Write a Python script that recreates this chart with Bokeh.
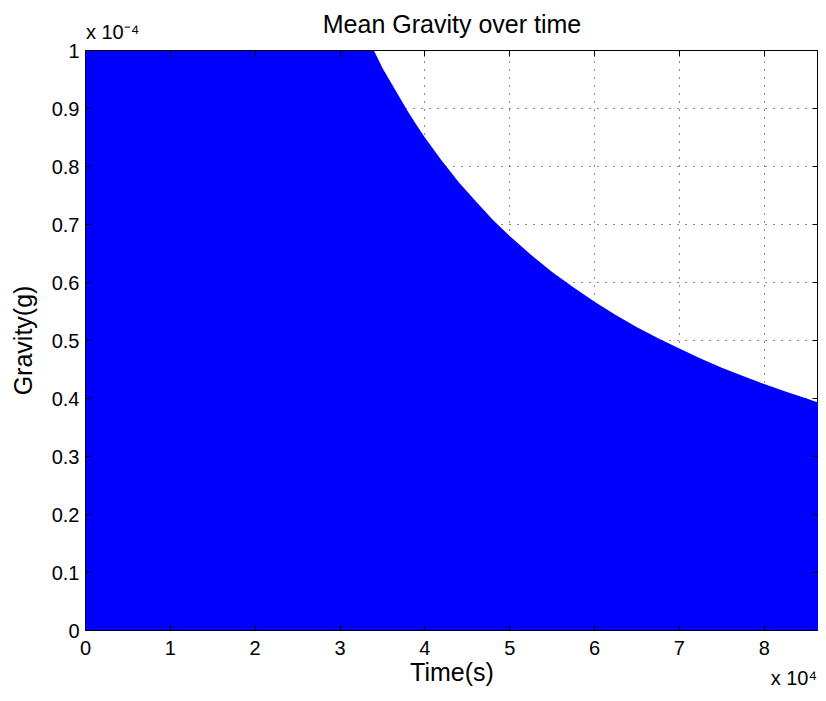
from bokeh.plotting import figure
from bokeh.models import Range1d, LinearAxis, FixedTicker
from bokeh.embed import file_html
from bokeh.resources import INLINE

# Data (time in seconds, gravity in g)
time_s = [0, 10000, 20000, 25000, 30000, 34000, 35000, 36000, 37000, 38000,
          39000, 40000, 42000, 44000, 46000, 48000, 50000, 52500, 55000,
          57500, 60000, 62500, 65000, 67500, 70000, 72500, 75000, 77500,
          80000, 82500, 85000, 86400]
gravity_g = [9.0e-4, 3.4e-4, 1.7e-4, 1.36e-4, 1.13e-4, 1.0e-4, 0.97e-4,
             0.945e-4, 0.92e-4, 0.895e-4, 0.872e-4, 0.85e-4, 0.81e-4,
             0.773e-4, 0.74e-4, 0.708e-4, 0.68e-4, 0.648e-4, 0.618e-4,
             0.592e-4, 0.567e-4, 0.544e-4, 0.523e-4, 0.504e-4, 0.486e-4,
             0.469e-4, 0.453e-4, 0.439e-4, 0.425e-4, 0.412e-4, 0.40e-4,
             0.393e-4]

x_ticks = [0, 10000, 20000, 30000, 40000, 50000, 60000, 70000, 80000]
x_tick_labels = ["0", "1", "2", "3", "4", "5", "6", "7", "8"]
y_ticks = [0, 0.1e-4, 0.2e-4, 0.3e-4, 0.4e-4, 0.5e-4, 0.6e-4, 0.7e-4, 0.8e-4, 0.9e-4, 1.0e-4]
y_tick_labels = ["0", "0.1", "0.2", "0.3", "0.4", "0.5", "0.6", "0.7", "0.8", "0.9", "1"]

title_text = "Mean Gravity over time"
x_label = "Time(s)"
y_label = "Gravity(g)"
x_multiplier = "x 10\u2074"
y_multiplier = "x 10\u207b\u2074"
x_multiplier_at = 83500
y_multiplier_at = 3200

FONT = "Liberation Sans"
TICK_SIZE = "20px"
LABEL_SIZE = "25px"
MULT_SIZE = "20px"

p = figure(width=818, height=693, output_backend="svg", toolbar_location=None,
           x_range=Range1d(0, 86400), y_range=Range1d(0, 1e-4),
           min_border_left=85, min_border_right=0, min_border_top=50,
           min_border_bottom=63, background_fill_color="white",
           border_fill_color="white", title_location=None)

p.varea(x=time_s, y1=0, y2=gravity_g, fill_color="#0000FF", fill_alpha=1.0)

p.outline_line_color = "black"
p.outline_line_width = 1


def style_axis(ax, show_labels=True, show_ticks=True):
    ax.major_tick_in = 6 if show_ticks else 0
    ax.major_tick_out = 0
    ax.minor_tick_in = 0
    ax.minor_tick_out = 0
    ax.axis_line_color = "black" if show_ticks else None
    ax.major_tick_line_color = "black" if show_ticks else None
    ax.major_label_text_font = FONT
    ax.major_label_text_font_size = TICK_SIZE
    ax.major_label_text_color = "black"
    ax.axis_label_text_font = FONT
    ax.axis_label_text_font_size = LABEL_SIZE
    ax.axis_label_text_font_style = "normal"
    ax.axis_label_text_color = "black"
    if not show_labels:
        ax.major_label_text_font_size = "0px"
        ax.major_label_text_color = None
        ax.major_label_standoff = 0


xa = p.xaxis[0]
xa.ticker = FixedTicker(ticks=x_ticks)
xa.major_label_overrides = {t: l for t, l in zip(x_ticks, x_tick_labels)}
xa.axis_label = x_label
style_axis(xa)
xa.major_label_standoff = 10
xa.axis_label_standoff = 0

ya = p.yaxis[0]
ya.ticker = FixedTicker(ticks=y_ticks)
ya.major_label_overrides = {t: l for t, l in zip(y_ticks, y_tick_labels)}
ya.axis_label = y_label
style_axis(ya)
ya.major_label_standoff = 6
ya.axis_label_standoff = 12

# box axes with inward ticks
top = LinearAxis(ticker=FixedTicker(ticks=x_ticks))
style_axis(top, show_labels=False)
p.add_layout(top, "above")
right = LinearAxis(ticker=FixedTicker(ticks=y_ticks))
style_axis(right, show_labels=False)
p.add_layout(right, "right")

# top: exponent multiplier + title
top2 = LinearAxis(ticker=FixedTicker(ticks=[y_multiplier_at]),
                  major_label_overrides={y_multiplier_at: y_multiplier})
style_axis(top2, show_ticks=False)
top2.major_label_text_font_size = MULT_SIZE
top2.major_label_standoff = 8
top2.axis_label = title_text
top2.axis_label_standoff = -20
p.add_layout(top2, "above")

# bottom: exponent multiplier
bot2 = LinearAxis(ticker=FixedTicker(ticks=[x_multiplier_at]),
                  major_label_overrides={x_multiplier_at: x_multiplier})
style_axis(bot2, show_ticks=False)
bot2.major_label_text_font_size = MULT_SIZE
bot2.major_label_standoff = -22
p.add_layout(bot2, "below")

for g in p.grid:
    g.grid_line_color = "black"
    g.grid_line_dash = "1 7"
    g.grid_line_width = 1
    g.grid_line_alpha = 0.9
p.xgrid.ticker = FixedTicker(ticks=x_ticks)
p.ygrid.ticker = FixedTicker(ticks=y_ticks)

open("out.html", "w").write(file_html(p, INLINE))
